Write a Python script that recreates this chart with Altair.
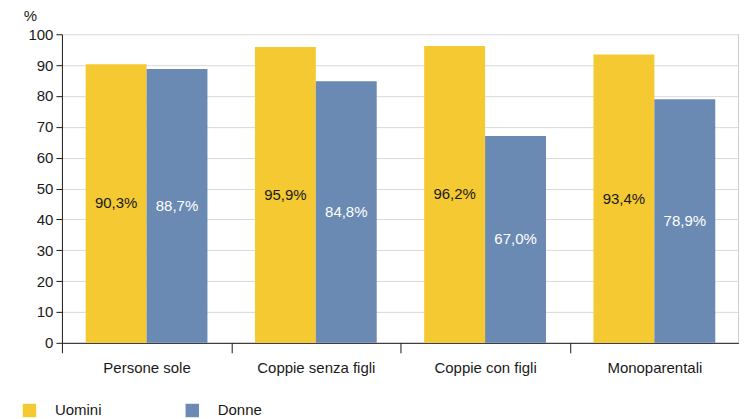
import altair as alt
import pandas as pd

categories = ["Persone sole", "Coppie senza figli", "Coppie con figli", "Monoparentali"]
uomini = [90.3, 95.9, 96.2, 93.4]
donne = [88.7, 84.8, 67.0, 78.9]
series = ["Uomini", "Donne"]
colors = ["#F4C932", "#6A8AB3"]
label_colors = ["#1a1a1a", "#ffffff"]
y_ticks = [0, 10, 20, 30, 40, 50, 60, 70, 80, 90, 100]

rows = []
for c, u, d in zip(categories, uomini, donne):
    rows.append({"cat": c, "serie": "Uomini", "val": u, "lab": f"{u:.1f}%".replace(".", ","), "lc": label_colors[0]})
    rows.append({"cat": c, "serie": "Donne", "val": d, "lab": f"{d:.1f}%".replace(".", ","), "lc": label_colors[1]})
df = pd.DataFrame(rows)

FONT = "Liberation Sans"

x = alt.X("cat:N", sort=categories, title=None,
          scale=alt.Scale(paddingInner=0, paddingOuter=0),
          axis=alt.Axis(labelAngle=0, labelFontSize=15, labelColor="#1a1a1a", labelPadding=8,
                        domainColor="#1a1a1a", tickColor="#1a1a1a", tickSize=10,
                        tickBand="extent", grid=False, labelFont=FONT))
xo = alt.XOffset("serie:N", sort=series, scale=alt.Scale(paddingInner=0, paddingOuter=0.39))
yscale = alt.Scale(domain=[0, 100])
yaxis = alt.Axis(values=y_ticks, labelFontSize=15, labelColor="#1a1a1a", labelOverlap=False,
                 labelFont=FONT, titleFont=FONT, titleFontSize=15, titleFontWeight="normal",
                 titleAngle=0, titleX=-32, titleY=-19, titleBaseline="middle", titleColor="#1a1a1a",
                 domainColor="#1a1a1a", tickColor="#1a1a1a", tickSize=6,
                 gridColor="#d9d9d9", labelPadding=3)

bars = alt.Chart(df).mark_bar().encode(
    x=x, xOffset=xo,
    y=alt.Y("val:Q", scale=yscale, title="%", axis=yaxis),
    color=alt.Color("serie:N", sort=series, scale=alt.Scale(domain=series, range=colors),
                    legend=alt.Legend(title=None, orient="none", legendX=-40, legendY=369,
                                      direction="horizontal", symbolType="square", symbolSize=180,
                                      symbolStrokeWidth=0, labelFontSize=15, labelFont=FONT,
                                      labelColor="#1a1a1a", labelOffset=18, columnPadding=83,
                                      symbolOpacity=1))
)

text = alt.Chart(df).mark_text(fontSize=15, font=FONT).encode(
    x=alt.X("cat:N", sort=categories), xOffset=xo,
    y=alt.Y("mid:Q", scale=yscale, title="%", axis=yaxis),
    text="lab:N",
    color=alt.Color("lc:N", scale=None)
).transform_calculate(mid="datum.val/2")

edge = alt.Chart(df).mark_rule(color="#d0d0d0", strokeWidth=1).encode(
    x=alt.value(678), y=alt.value(0), y2=alt.value(309))

chart = alt.layer(edge, bars, text).properties(
    width=678, height=309,
    autosize=alt.AutoSizeParams(type="none"),
    padding={"left": 54, "top": 26, "right": 0, "bottom": 76}
).configure_view(stroke=None)

chart.save("out.html", embed_options={"renderer": "svg", "actions": False})
